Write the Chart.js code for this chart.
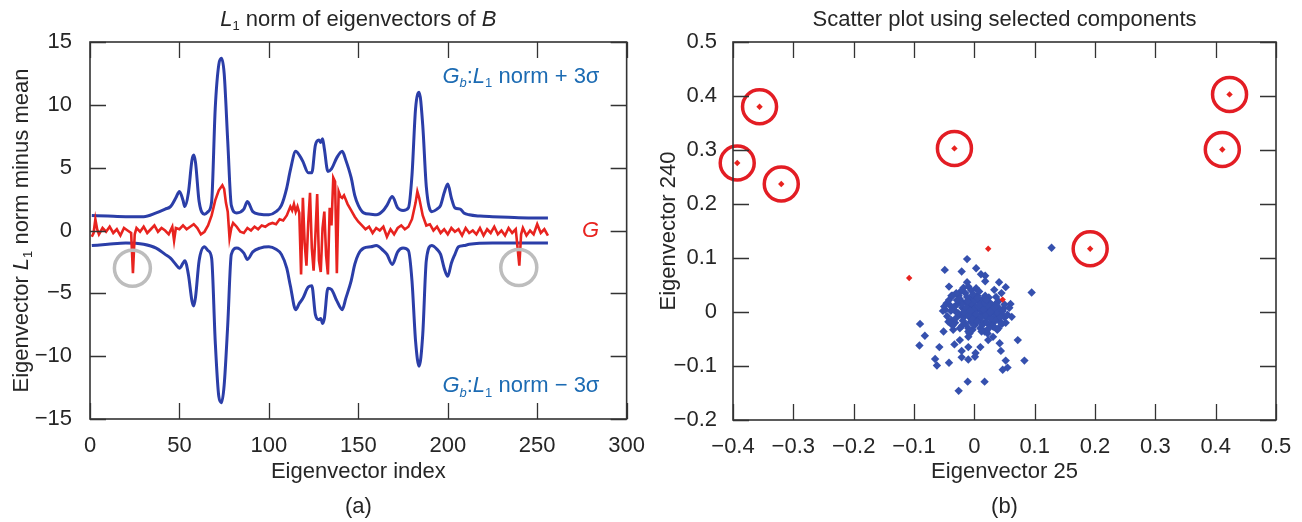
<!DOCTYPE html>
<html>
<head>
<meta charset="utf-8">
<script src="https://cdn.jsdelivr.net/npm/chart.js@4/dist/chart.umd.min.js"></script>
<style>
  html, body { margin: 0; padding: 0; background: #fff; }
  #wrap { position: relative; width: 1302px; height: 522px; }
  .panel { position: absolute; top: 0; width: 651px; height: 522px; }
</style>
</head>
<body>
<div id="wrap">
  <div class="panel" style="left:0"><canvas id="normChart"></canvas></div>
  <div class="panel" style="left:651px"><canvas id="scatterChart"></canvas></div>
</div>
<script>
// ---- (a) L1 norm of eigenvectors ----
const upperIdx = [1, 10, 20, 30, 37, 42, 45, 48, 50, 52, 53, 55, 57, 58, 59, 61, 64, 66, 68, 70, 72, 73.5, 75, 77, 79, 82, 86, 88, 91, 95,
  100, 104, 107, 110, 112, 115, 117, 119, 122, 124, 126, 128, 129, 130, 131, 133, 135, 138, 141, 143, 146, 148, 150, 153, 157,
  160, 164, 166, 169, 172, 175, 178, 180, 182, 184, 186, 188, 191, 194, 196, 198, 200, 202, 204, 207, 209, 212, 218, 225, 234, 245, 256];
const upperVal = [1.2, 1.15, 1.1, 1.1, 1.4, 1.7, 1.9, 2.6, 3.1, 2.4, 1.9, 3.0, 5.6, 6.0, 5.4, 2.3, 1.3, 1.5, 2.3, 9.7, 13.2, 13.7, 12.5, 7.1, 2.0, 1.4, 1.7, 2.3, 1.5, 1.3,
  1.25, 1.5, 2.0, 3.4, 4.8, 6.3, 6.0, 5.5, 4.6, 4.6, 6.8, 7.2, 7.0, 7.3, 6.5, 4.7, 4.9, 5.8, 6.3, 5.6, 4.2, 2.8, 2.0, 1.4, 1.3,
  1.25, 1.6, 2.0, 2.7, 1.8, 1.6, 1.8, 4.4, 9.7, 11.0, 8.4, 3.5, 1.5, 1.7, 2.0, 3.0, 3.7, 2.6, 1.8, 1.7, 1.4, 1.25, 1.15, 1.1, 1.05, 1.0, 1.0];

const lowerIdx = [1, 10, 20, 30, 37, 42, 45, 48, 50, 52, 53, 55, 57, 58, 59, 61, 64, 66, 68, 70, 72, 73.5, 75, 77, 79, 82, 86, 88, 91, 95,
  100, 104, 107, 110, 112, 115, 117, 119, 122, 124, 126, 128, 129, 130, 131, 133, 135, 138, 141, 143, 146, 148, 150, 153, 157,
  160, 164, 166, 169, 172, 175, 178, 180, 182, 184, 186, 188, 191, 194, 196, 198, 200, 202, 204, 206, 209, 212, 225, 256];
const lowerVal = [-1.2, -1.1, -1.0, -1.1, -1.4, -1.9, -2.2, -2.7, -3.0, -2.6, -2.4, -3.5, -5.6, -6.0, -5.3, -2.4, -1.3, -1.6, -2.2, -8.8, -13.2, -13.7, -12.3, -7.5, -1.9, -1.4, -1.8, -2.3, -1.7, -1.4,
  -1.3, -1.5, -1.9, -3.0, -4.4, -6.3, -5.8, -5.4, -4.5, -4.4, -6.7, -7.1, -7.0, -7.4, -7.0, -4.6, -4.7, -5.6, -6.3, -5.4, -4.0, -2.7, -1.9, -1.4, -1.3,
  -1.2, -1.6, -1.9, -2.7, -1.7, -1.4, -1.6, -4.0, -8.8, -10.8, -8.3, -2.4, -1.2, -1.5, -1.9, -3.0, -3.65, -2.6, -1.9, -1.3, -1.2, -1.1, -1.0, -1.0];

const gIdx = [1, 2, 3, 4, 5, 7, 9, 11, 13, 15, 17, 19, 21, 23, 24, 25, 26, 28, 30, 32, 34, 36, 38, 40, 42, 44, 46, 47, 48, 50,
  52, 54, 56, 58, 60, 62, 64, 66, 68, 70, 72, 74, 75, 76, 77, 78, 79, 80, 82, 84, 86, 88, 90, 92, 94, 96, 98, 100, 102, 104,
  106, 108, 110, 112, 113, 114, 115, 116, 117, 118, 119, 120, 121, 122, 123, 124, 125, 126, 127, 128, 129, 130, 131, 132, 133, 134, 135, 136, 137, 138,
  139, 140, 141, 142, 144, 146, 148, 150, 152, 154, 156, 158, 160, 162, 164, 166, 168, 170, 172, 174, 176, 178, 180, 182, 183, 184, 186, 188, 190,
  192, 194, 196, 198, 200, 202, 204, 206, 208, 210, 212, 214, 216, 218, 220, 222, 224, 226, 228, 230, 232, 234, 236, 238, 240, 241, 242, 244, 246, 248,
  250, 252, 254, 256];
const gVal = [-0.5, -0.2, 0.9, 0.1, -0.3, 0.2, -0.1, 0.3, -0.2, 0.1, -0.4, 0.2, 0.0, -0.2, -3.4, -0.3, 0.2, -0.1, 0.3, -0.2, 0.1, 0.4, -0.1, 0.2, 0.0, -0.3, 0.3, -0.8, 0.2, 0.1,
  0.4, 0.1, 0.3, 0.5, 0.2, -0.3, -0.1, 0.4, 1.2, 2.4, 3.2, 3.6, 3.3, 2.2, 1.5, -0.6, 0.2, 0.6, 0.3, -0.1, -0.2, 0.2, 0.0, 0.3, 0.1, 0.4, 0.3, 0.5, 0.6, 0.5,
  0.9, 0.8, 1.2, 1.9, 1.6, 2.1, 1.5, 1.9, 1.4, -3.5, 2.6, -1.0, -2.8, 0.6, 3.0, -1.4, -3.2, -0.4, 2.9, -2.4, -3.3, 0.2, 1.5, -2.0, -3.5, 1.8, 0.4, 4.2, 3.9, -3.4,
  3.1, 2.7, 2.6, 2.8, 2.1, 1.6, 1.1, 0.7, 0.4, 0.1, 0.3, -0.2, 0.2, 0.0, 0.3, -0.5, 0.1, -0.3, 0.2, 0.4, 0.1, 0.3, 0.9, 2.2, 3.1, 2.6, 1.2, 0.4, 0.5,
  0.0, 0.3, -0.2, 0.1, -0.3, 0.2, -0.1, 0.1, -0.4, 0.2, -0.2, 0.0, -0.3, 0.2, -0.4, 0.1, -0.2, 0.3, -0.3, 0.0, -0.4, 0.2, -0.2, 0.1, -2.8, -0.3, 0.2, -0.4, 0.0, -0.3,
  0.5, -0.2, 0.1, -0.4];

const markIdx = [23.7, 239.7];
const markVal = [-3.0, -2.95];

const normXTicks = [0, 50, 100, 150, 200, 250, 300];
const normYTicks = [-15, -10, -5, 0, 5, 10, 15];

// ---- (b) scatter of components 25 and 240 ----
const blueX = [0.128, -0.012, 0.003, -0.049, -0.021, 0.011, 0.018, 0.018, -0.012, 0.041,
  -0.042, 0.052, -0.022, 0.033, 0.095, 0.045, 0.003, -0.010, -0.038, 0.024,
  0.060, -0.046, -0.052, 0.062, 0.052, -0.090, -0.082, -0.051, -0.035, -0.091,
  -0.058, -0.033, -0.010, 0.010, 0.042, 0.044, 0.072, -0.021, 0.002, 0.001,
  -0.021, -0.065, -0.010, -0.042, -0.062, 0.052, 0.083, 0.055, 0.047, -0.011,
  0.017, -0.026, 0.031, 0.023, -0.010, -0.024, -0.003, 0.017, 0.038, -0.038, 0.031,
  -0.040, -0.035, -0.030, -0.028, -0.025, -0.022, -0.020, -0.018, -0.016, -0.014,
  -0.012, -0.010, -0.008, -0.006, -0.004, -0.002, 0.000, 0.002, 0.004, 0.006,
  0.008, 0.010, 0.012, 0.014, 0.016, 0.018, 0.020, 0.022, 0.025, 0.028,
  0.030, 0.032, 0.035, 0.038, 0.040, 0.045, 0.048, 0.050, -0.045, -0.048,
  -0.038, -0.032, -0.026, -0.020, -0.015, -0.010, -0.005, 0.000, 0.005, 0.010,
  0.015, 0.020, 0.025, 0.030, 0.035, 0.040, 0.044, -0.042, -0.036, -0.024,
  -0.012, 0.008, 0.018, -0.006, 0.012, 0.028, 0.036, -0.030, -0.018, 0.000,
  0.022, -0.008, 0.030, 0.042, 0.055, 0.058,
  -0.033, -0.027, -0.021, -0.017, -0.013, -0.009, -0.005, -0.001, 0.003, 0.007,
  0.011, 0.015, 0.019, 0.023, 0.027, 0.031, 0.035, 0.039, 0.043, 0.047,
  -0.031, -0.024, -0.019, -0.011, -0.007, -0.003, 0.001, 0.005, 0.009, 0.013,
  0.017, 0.021, 0.026, 0.033, 0.037, -0.039, -0.043, -0.029, -0.015, -0.002,
  0.012, 0.024, 0.046, 0.050, -0.050, -0.036, 0.020, -0.010, 0.006, 0.040];
const blueY = [0.119, 0.098, 0.081, 0.078, 0.075, 0.070, 0.067, 0.057, 0.055, 0.055,
  0.047, 0.046, 0.039, 0.041, 0.036, 0.035, 0.044, 0.047, 0.030, 0.027,
  0.015, 0.016, 0.002, -0.009, -0.020, -0.022, -0.044, -0.036, -0.033, -0.062,
  -0.065, -0.060, -0.065, -0.065, -0.058, -0.072, -0.052, -0.072, -0.076, -0.083,
  -0.084, -0.087, -0.088, -0.094, -0.099, -0.090, -0.090, -0.103, -0.107, -0.129,
  -0.129, -0.146, -0.046, -0.052, -0.046, -0.052, -0.033, -0.036, -0.033, -0.021, -0.027,
  0.012, 0.005, 0.000, 0.015, -0.005, 0.020, 0.008, -0.010, 0.002, 0.018,
  -0.004, 0.010, 0.025, -0.012, 0.005, -0.002, 0.012, -0.008, 0.003, 0.020,
  -0.015, 0.006, -0.003, 0.014, -0.020, 0.002, -0.010, 0.010, -0.005, 0.004,
  -0.015, 0.000, -0.008, 0.008, -0.012, -0.004, 0.006, -0.010, -0.008, 0.004,
  -0.015, -0.020, 0.030, -0.025, 0.035, -0.030, 0.040, -0.025, 0.030, -0.030,
  0.025, -0.035, 0.018, -0.025, 0.015, 0.020, -0.020, 0.022, -0.025, -0.030,
  0.028, 0.038, 0.030, -0.018, 0.018, -0.022, 0.028, 0.035, 0.045, 0.030,
  -0.040, -0.040, 0.012, 0.005, -0.005, 0.008,
  0.010, -0.002, 0.014, 0.000, 0.008, -0.006, 0.016, 0.004, -0.004, 0.010,
  -0.010, 0.004, -0.006, 0.012, -0.012, 0.006, -0.016, -0.002, -0.010, 0.002,
  -0.012, 0.024, -0.016, 0.020, 0.002, -0.014, 0.022, -0.018, 0.014, -0.024,
  0.016, -0.020, 0.000, -0.028, 0.012, 0.002, -0.018, 0.022, -0.022, 0.033,
  -0.036, -0.030, -0.022, 0.014, 0.010, 0.030, 0.022, -0.036, 0.026, -0.030];

const redX = [-0.393, -0.356, -0.320, -0.033, 0.192, 0.423, 0.411, 0.023, -0.108, 0.047];
const redY = [0.276, 0.380, 0.237, 0.303, 0.117, 0.403, 0.301, 0.117, 0.063, 0.023];
const circledX = [-0.393, -0.356, -0.320, -0.033, 0.192, 0.423, 0.411];
const circledY = [0.276, 0.380, 0.237, 0.303, 0.117, 0.403, 0.301];

const scatterXTicks = [-0.4, -0.3, -0.2, -0.1, 0, 0.1, 0.2, 0.3, 0.4, 0.5];
const scatterYTicks = [-0.2, -0.1, 0, 0.1, 0.2, 0.3, 0.4, 0.5];

const FONT = '"Liberation Sans", Arial, Helvetica, sans-serif';
const TEXT = "#262626";
const BLUE_LINE = "#2b3ea8";
const RED = "#e8231f";
const NOTE_BLUE = "#1c6bb3";

const toPoints = (xs, ys) => xs.map((x, i) => ({ x, y: ys[i] }));

// text with italic letters and subscripts, drawn as pieces
function drawRich(ctx, parts, x, y, size, color, align) {
  const fontFor = style => {
    const sub = style.includes("s");
    const it = style.includes("i");
    return (it ? "italic " : "") + Math.round(sub ? size * 0.6 : size) + "px " + FONT;
  };
  ctx.save();
  ctx.fillStyle = color;
  ctx.textBaseline = "middle";
  ctx.textAlign = "left";
  let total = 0;
  parts.forEach(([t, style]) => {
    ctx.font = fontFor(style);
    total += ctx.measureText(t).width;
  });
  let px = align === "center" ? x - total / 2 : align === "right" ? x - total : x;
  parts.forEach(([t, style]) => {
    ctx.font = fontFor(style);
    const dy = style.includes("s") ? size * 0.3 : 0;
    ctx.fillText(t, px, y + dy);
    px += ctx.measureText(t).width;
  });
  ctx.restore();
}

// box round the plot area with inward ticks on every side
const framePlugin = {
  id: "frame",
  afterDraw(chart) {
    const { ctx, chartArea: a, scales } = chart;
    const len = 16;
    ctx.save();
    ctx.strokeStyle = "#333";
    ctx.lineWidth = 1.3;
    ctx.beginPath();
    scales.x.ticks.forEach((t, i) => {
      const px = Math.round(scales.x.getPixelForTick(i)) + 0.5;
      ctx.moveTo(px, a.bottom); ctx.lineTo(px, a.bottom - len);
      ctx.moveTo(px, a.top); ctx.lineTo(px, a.top + len);
    });
    scales.y.ticks.forEach((t, i) => {
      const py = Math.round(scales.y.getPixelForTick(i)) + 0.5;
      ctx.moveTo(a.left, py); ctx.lineTo(a.left + len, py);
      ctx.moveTo(a.right, py); ctx.lineTo(a.right - len, py);
    });
    ctx.stroke();
    ctx.lineWidth = 1.6;
    ctx.strokeRect(a.left, a.top, a.width, a.height);
    ctx.restore();
  }
};

const normText = {
  id: "normText",
  afterDraw(chart) {
    const { ctx, chartArea: a, scales: { x, y } } = chart;
    const cx = (a.left + a.right) / 2;
    drawRich(ctx, [["L", "i"], ["1", "s"], [" norm of eigenvectors of ", ""], ["B", "i"]], cx, 20, 22, TEXT, "center");
    drawRich(ctx, [["Eigenvector index", ""]], cx, 472, 22, TEXT, "center");
    drawRich(ctx, [["(a)", ""]], cx, 507, 22, TEXT, "center");
    ctx.save();
    ctx.translate(22, (a.top + a.bottom) / 2);
    ctx.rotate(-Math.PI / 2);
    drawRich(ctx, [["Eigenvector ", ""], ["L", "i"], ["1", "s"], [" norm minus mean", ""]], 0, 0, 22, TEXT, "center");
    ctx.restore();
    drawRich(ctx, [["G", "i"], ["b", "is"], [":", ""], ["L", "i"], ["1", "s"], [" norm + 3σ", ""]],
      x.getPixelForValue(197), y.getPixelForValue(12.2), 22, NOTE_BLUE, "left");
    drawRich(ctx, [["G", "i"], ["b", "is"], [":", ""], ["L", "i"], ["1", "s"], [" norm − 3σ", ""]],
      x.getPixelForValue(197), y.getPixelForValue(-12.4), 22, NOTE_BLUE, "left");
    drawRich(ctx, [["G", "i"]], x.getPixelForValue(275), y.getPixelForValue(0), 22, RED, "left");
  }
};

const scatterText = {
  id: "scatterText",
  afterDraw(chart) {
    const { ctx, chartArea: a } = chart;
    const cx = (a.left + a.right) / 2;
    drawRich(ctx, [["Scatter plot using selected components", ""]], cx, 20, 22, TEXT, "center");
    drawRich(ctx, [["Eigenvector 25", ""]], cx, 472, 22, TEXT, "center");
    drawRich(ctx, [["(b)", ""]], cx, 507, 22, TEXT, "center");
    ctx.save();
    ctx.translate(18, (a.top + a.bottom) / 2);
    ctx.rotate(-Math.PI / 2);
    drawRich(ctx, [["Eigenvector 240", ""]], 0, 0, 22, TEXT, "center");
    ctx.restore();
  }
};

const tickFont = { family: FONT, size: 22 };
const minus = v => String(v).replace("-", "\u2212");

function axis(ticks, size, horizontal, pad) {
  return {
    type: "linear",
    min: ticks[0],
    max: ticks[ticks.length - 1],
    grid: { display: false },
    border: { display: false },
    afterBuildTicks: s => { s.ticks = ticks.map(v => ({ value: v })); },
    afterFit: s => { if (horizontal) s.height = size; else s.width = size; },
    ticks: { font: tickFont, color: TEXT, padding: pad, callback: minus, autoSkip: false, maxRotation: 0 }
  };
}

new Chart(document.getElementById("normChart"), {
  type: "line",
  data: {
    datasets: [
      {
        type: "scatter",
        data: toPoints(markIdx, markVal),
        pointStyle: "circle",
        pointRadius: 18,
        borderWidth: 3.5,
        borderColor: "#bdbdbd",
        backgroundColor: "rgba(0,0,0,0)",
        showLine: false
      },
      {
        data: toPoints(gIdx, gVal),
        borderColor: RED,
        borderWidth: 2.6,
        pointRadius: 0,
        tension: 0,
        fill: false
      },
      {
        data: toPoints(upperIdx, upperVal),
        borderColor: BLUE_LINE,
        borderWidth: 3,
        pointRadius: 0,
        cubicInterpolationMode: "monotone",
        fill: false
      },
      {
        data: toPoints(lowerIdx, lowerVal),
        borderColor: BLUE_LINE,
        borderWidth: 3,
        pointRadius: 0,
        cubicInterpolationMode: "monotone",
        fill: false
      }
    ]
  },
  options: {
    responsive: true,
    maintainAspectRatio: false,
    animation: false,
    events: [],
    layout: { padding: { left: 0, right: 22, top: 42, bottom: 0 } },
    plugins: { legend: { display: false }, tooltip: { enabled: false } },
    scales: {
      x: axis(normXTicks, 103, true, 6),
      y: axis(normYTicks, 90, false, 10)
    }
  },
  plugins: [framePlugin, normText]
});

new Chart(document.getElementById("scatterChart"), {
  type: "scatter",
  data: {
    datasets: [
      {
        data: toPoints(circledX, circledY),
        pointStyle: "circle",
        pointRadius: 17,
        borderWidth: 3.5,
        borderColor: "#e31d24",
        backgroundColor: "rgba(0,0,0,0)",
        clip: false
      },
      {
        data: toPoints(redX, redY),
        pointStyle: "rectRot",
        pointRadius: 3.2,
        borderWidth: 0,
        backgroundColor: RED
      },
      {
        data: toPoints(blueX, blueY),
        pointStyle: "rectRot",
        pointRadius: 4.2,
        borderWidth: 0,
        backgroundColor: "#3550ae"
      }
    ]
  },
  options: {
    responsive: true,
    maintainAspectRatio: false,
    animation: false,
    events: [],
    layout: { padding: { left: 0, right: 26, top: 42, bottom: 0 } },
    plugins: { legend: { display: false }, tooltip: { enabled: false } },
    scales: {
      x: axis(scatterXTicks, 102, true, 6),
      y: axis(scatterYTicks, 82, false, 8)
    }
  },
  plugins: [framePlugin, scatterText]
});
</script>
</body>
</html>
